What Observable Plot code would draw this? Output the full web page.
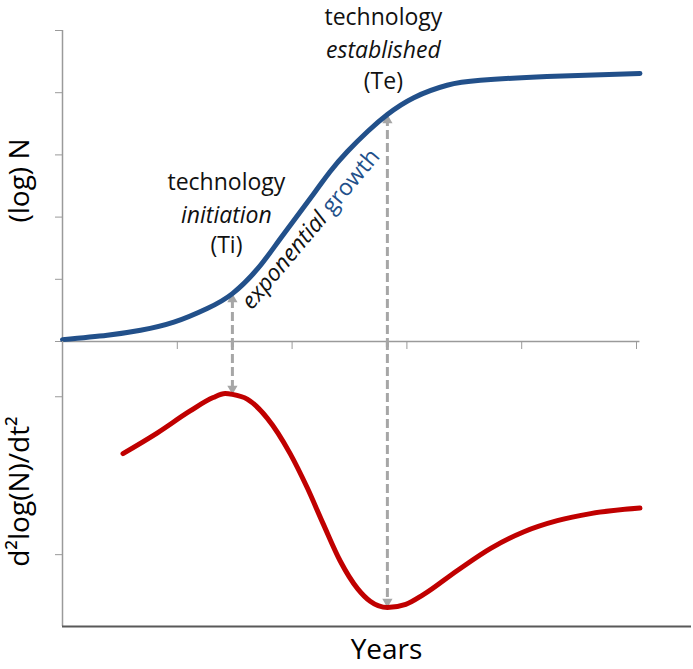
<!DOCTYPE html>
<html>
<head>
<meta charset="utf-8">
<script src="https://cdn.jsdelivr.net/npm/d3@7"></script>
<script src="https://cdn.jsdelivr.net/npm/@observablehq/plot@0.6"></script>
<style>
  body { margin: 0; background: #fff; }
  #chart { position: relative; width: 693px; height: 669px; background: #fff; }
  #chart svg { position: absolute; left: 0; top: 0; }
</style>
</head>
<body>
<div id="chart"></div>
<script>
// ---- data ----
const yearsTop = [0, 0.39, 0.68, 0.97, 1.26, 1.48, 1.70, 1.90, 2.19, 2.33, 2.48, 2.66, 2.83, 3.06, 3.35, 3.64, 4.22, 5.03];
const logN     = [0.03, 0.10, 0.18, 0.31, 0.53, 0.77, 1.17, 1.66, 2.38, 2.73, 3.05, 3.38, 3.65, 3.92, 4.12, 4.20, 4.26, 4.31];

const yearsBottom = [0.527, 0.824, 1.112, 1.312, 1.417, 1.48, 1.609, 1.783, 1.983, 2.131, 2.271, 2.419, 2.57, 2.68, 2.83, 2.99, 3.14, 3.44, 3.73, 4.02, 4.31, 4.60, 5.03];
const d2logN      = [0.28, 0.54, 0.82, 0.99, 1.04, 1.03, 0.97, 0.73, 0.28, -0.15, -0.61, -1.08, -1.43, -1.59, -1.67, -1.63, -1.51, -1.20, -0.92, -0.71, -0.57, -0.48, -0.41];

const xTicks = [0, 1, 2, 3, 4, 5];
const topYTicks = [0, 1, 2, 3, 4, 5];
const topYDomain = [0, 5];
const bottomYTicks = [-1, 1];
const bottomYDomain = [-1.91, 1.70];

const milestoneKeys   = ["Ti", "Te"];
const milestoneYears  = [1.48, 2.83];
const milestonePhases = ["initiation", "established"];
const milestoneWord   = "technology";
const growthWords     = ["exponential", "growth"];
const growthAnchorYear = 2.19;
const topLabel = "(log) N";
const bottomLabel = "d²log(N)/dt²";
const xLabel = "Years";

// ---- derived tables ----
const topData = yearsTop.map((x, i) => ({x, y: logN[i]}));
const bottomData = yearsBottom.map((x, i) => ({x, y: d2logN[i]}));
const milestones = milestoneKeys.map((key, i) => ({
  key,
  year: milestoneYears[i],
  phase: milestonePhases[i],
  top: logN[yearsTop.indexOf(milestoneYears[i])],
  bottom: d2logN[yearsBottom.indexOf(milestoneYears[i])]
}));
const growthAnchor = [{x: growthAnchorYear, y: logN[yearsTop.indexOf(growthAnchorYear)]}];

const FONT = "'Open Sans', sans-serif";
const BLUE = "#22508a", RED = "#c00000", ARROW = "#a6a6a6", AXIS = "#9a9a9a";
const W = 693, H = 669;
const common = {width: W, height: H, marginLeft: 62, marginRight: 57};

function milestoneLabel(m, dx, dy0) {
  const base = {x: "year", y: "top", dx, fontSize: 23, fill: "#111", fontFamily: FONT, textAnchor: "middle"};
  return [
    Plot.text([m], {...base, text: () => milestoneWord, dy: dy0}),
    Plot.text([m], {...base, text: d => d.phase, fontStyle: "italic", dy: dy0 + 33}),
    Plot.text([m], {...base, text: d => `(${d.key})`, dy: dy0 + 63.5})
  ];
}

const topPlot = Plot.plot({
  ...common,
  marginTop: 30,
  marginBottom: H - 341,
  style: {fontFamily: FONT, background: "transparent", overflow: "visible", color: AXIS},
  x: {domain: [0, 5], ticks: xTicks, tickSize: 8, tickFormat: () => "", label: null},
  y: {domain: topYDomain, ticks: topYTicks, tickSize: 7, tickFormat: () => "", label: null},
  marks: [
    Plot.ruleY([0], {x1: 0, x2: yearsTop[yearsTop.length - 1], stroke: AXIS, strokeWidth: 1.5}),
    Plot.ruleX([0], {y1: topYDomain[0], y2: topYDomain[1], stroke: AXIS, strokeWidth: 1.5}),
    Plot.ruleX(milestones, {x: "year", y1: 0, y2: "top", stroke: ARROW, strokeWidth: 3, strokeDasharray: "9,4", insetTop: 6}),
    Plot.dot(milestones, {x: "year", y: "top", symbol: "triangle", r: 3.8, fill: ARROW, stroke: "none", dy: 5.8}),
    Plot.line(topData, {x: "x", y: "y", stroke: BLUE, strokeWidth: 5, curve: "natural"}),
    ...milestoneLabel(milestones[0], -6, -111.4),
    ...milestoneLabel(milestones[1], -4, -96.5),
    Plot.text(growthAnchor, {x: "x", y: "y", text: () => growthWords[0], rotate: -50, textAnchor: "end",
      dx: 8.7, dy: 21.5, fontSize: 23, fontStyle: "italic", fill: "#111", fontFamily: FONT}),
    Plot.text(growthAnchor, {x: "x", y: "y", text: () => growthWords[1], rotate: -50, textAnchor: "start",
      dx: 12.5, dy: 16.9, fontSize: 23, fill: BLUE, fontFamily: FONT}),
    Plot.text([topLabel], {frameAnchor: "left", textAnchor: "middle", rotate: -90, dx: -42, dy: -5.5, fontSize: 28, fill: "#000", fontFamily: FONT})
  ]
});

const bottomPlot = Plot.plot({
  ...common,
  marginTop: 341,
  marginBottom: H - 626,
  style: {fontFamily: FONT, background: "transparent", overflow: "visible", color: AXIS},
  x: {domain: [0, 5], axis: null},
  y: {domain: bottomYDomain, ticks: bottomYTicks, tickSize: 7, tickFormat: () => "", label: null},
  marks: [
    Plot.ruleX([0], {y1: bottomYDomain[0], y2: bottomYDomain[1], stroke: AXIS, strokeWidth: 1.5}),
    Plot.ruleY([bottomYDomain[0]], {stroke: "#595959", strokeWidth: 2, insetRight: -55}),
    Plot.ruleX(milestones, {x: "year", y1: bottomYDomain[1], y2: "bottom", stroke: ARROW, strokeWidth: 3, strokeDasharray: "9,4", insetBottom: 6}),
    Plot.dot(milestones, {x: "year", y: "bottom", symbol: "triangle", rotate: 180, r: 3.8, fill: ARROW, stroke: "none", dy: -5.8}),
    Plot.line(bottomData, {x: "x", y: "y", stroke: RED, strokeWidth: 5, strokeLinecap: "round", curve: "monotone-x"}),
    Plot.text([bottomLabel], {frameAnchor: "left", textAnchor: "middle", rotate: -90, dx: -42, dy: 7.5, fontSize: 28, fill: "#000", fontFamily: FONT}),
    Plot.text([xLabel], {frameAnchor: "bottom", textAnchor: "middle", dx: 37, dy: 32, fontSize: 28, fill: "#000", fontFamily: FONT})
  ]
});

const chart = document.getElementById("chart");
chart.appendChild(topPlot);
chart.appendChild(bottomPlot);
</script>
</body>
</html>
